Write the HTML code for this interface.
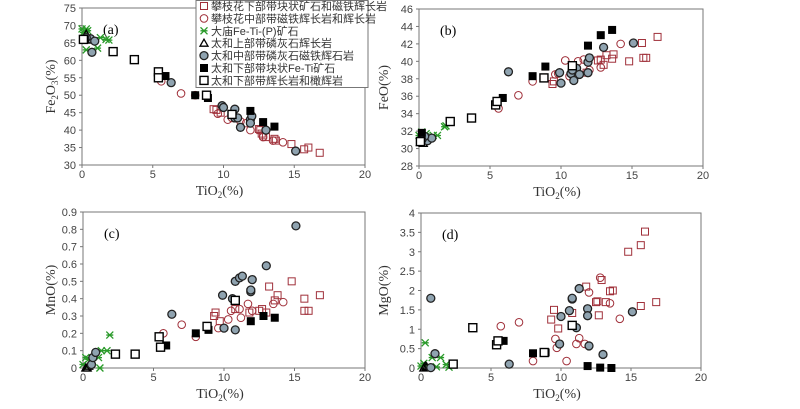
<!DOCTYPE html>
<html><head><meta charset="utf-8"><style>
body{margin:0;background:#fff;width:800px;height:404px;overflow:hidden}
</style></head><body>
<svg id="c" width="800" height="404" xmlns="http://www.w3.org/2000/svg"></svg>
<script>
// Series data [TiO2, value] per panel
const seriesNames=["攀枝花下部带块状矿石和磁铁辉长岩","攀枝花中部带磁铁辉长岩和辉长岩","大庙Fe-Ti-(P)矿石","太和上部带磷灰石辉长岩","太和中部带磷灰石磁铁辉石岩","太和下部带块状Fe-Ti矿石","太和下部带辉长岩和橄辉岩"];
const feA=[[[9.5,45.8],[9.8,45],[9.3,46],[12.6,40],[12.7,39],[12.8,38.5],[13,38],[13.6,37.5],[13.7,37],[14.8,36],[15.7,34.5],[16,35],[16.8,33.5],[12.5,40.3]],
[[5.6,54],[7,50.5],[8,50],[10.3,43],[10.6,43.5],[11.6,42],[11.9,40],[12.8,38],[13.5,37],[14.2,36.5],[9.6,44.7],[11.2,42.5]],
[[0,69],[0.1,68],[0.3,69],[0.4,68.5],[0.5,66],[1.3,66.5],[1.7,66],[1.9,65.8],[0.3,63],[1.1,63.5],[0.2,67]],
[[0.2,66],[0.3,67.5],[0.4,65.8]],
[[0.6,66.2],[0.9,65.5],[0.7,62.3],[6.3,53.6],[9.9,47],[10,46.5],[10.6,44.5],[10.8,46],[10.8,43.5],[11,43.5],[11.2,40.8],[11.9,43],[12,44],[11.9,42],[13,40],[15.1,34],[0.3,66.5]],
[[5.9,55.5],[8,50],[8.9,49.2],[11.9,45.5],[12.8,42.3],[13.6,41],[0.2,66]],
[[2.2,62.5],[3.7,60.2],[5.4,56.7],[5.4,55],[8.8,50],[0.1,66],[10.6,44.5]]];
const feoB=[[[12.6,40.1],[12.8,40.2],[13,39.6],[13.2,40.7],[13.6,40.3],[13.7,40.8],[14.8,40],[15.7,42.1],[15.8,40.4],[16,40.4],[16.8,42.8],[9.4,37.4],[9.5,37.7],[11.8,38.7]],
[[5.6,34.6],[7,36.1],[8,37.7],[9.6,38.5],[10.3,40.1],[10.6,38.3],[11.2,40],[11.6,40.2],[12,39],[12.8,39.3],[14.2,42],[9.8,38.6]],
[[0,31.5],[0.2,31.9],[0.5,31.7],[1,31.5],[1.3,31.5],[1.8,32.5],[1.9,32.6],[0.3,31]],
[[0.1,30.7],[0.2,31.3],[0.3,30.6]],
[[0.6,30.9],[0.9,31.2],[0.4,31.4],[6.3,38.8],[9.9,38.7],[10,37.5],[10.7,38.6],[10.9,37.8],[11.1,39.2],[11.3,38.5],[11.9,39.9],[11.9,38.7],[12,40.4],[13,41.6],[15.1,42.1],[10.8,39],[0.2,31]],
[[5.9,35.8],[8,38.3],[8.9,39.4],[11.9,41.8],[12.8,43],[13.6,43.6],[0.2,31.8]],
[[2.2,33.1],[3.7,33.5],[5.4,35],[5.5,35.4],[8.8,38.1],[10.8,39.5],[0.1,30.8]]];
const mnoC=[[[9.4,0.32],[9.3,0.3],[9.7,0.27],[10.8,0.34],[11.8,0.32],[12.5,0.33],[12.7,0.34],[13,0.32],[13.2,0.47],[13.6,0.39],[13.8,0.42],[14.8,0.5],[15.7,0.4],[15.7,0.33],[16,0.33],[16.8,0.42]],
[[5.7,0.2],[7,0.25],[8,0.18],[9.6,0.23],[10.3,0.28],[10.5,0.33],[11.1,0.34],[11.2,0.29],[11.7,0.37],[12,0.33],[13.5,0.37],[14.2,0.38]],
[[0,0.02],[0.2,0.06],[0.4,0.05],[0.6,0.03],[1.1,0.06],[1.3,0.1],[1.7,0.1],[1.9,0.19],[1.2,0],[0.3,0.01]],
[[0.2,0],[0.3,0],[0.4,0.01]],
[[0.6,0.02],[0.7,0.06],[0.9,0.09],[6.3,0.31],[9.9,0.42],[10,0.23],[10.6,0.4],[10.8,0.5],[10.8,0.22],[11.1,0.52],[11.3,0.53],[11.9,0.44],[11.9,0.45],[12,0.51],[13,0.59],[15.1,0.82]],
[[5.9,0.13],[8,0.2],[8.9,0.22],[11.9,0.27],[12.8,0.3],[13.6,0.29]],
[[2.3,0.08],[3.7,0.08],[5.4,0.18],[5.5,0.12],[8.8,0.24],[10.8,0.39]]];
const mgoD=[[[9.3,1.25],[9.5,1.5],[9.8,1.02],[10.8,1.42],[11.8,2.1],[12.5,1.7],[12.6,1.72],[12.7,1.36],[12.9,2.27],[13.2,1.7],[13.5,1.98],[13.7,2],[14.8,3],[15.7,3.17],[15.7,1.6],[16,3.52],[16.8,1.7]],
[[5.7,1.08],[7,1.18],[8,0.18],[9.6,0.75],[9.7,0.52],[10.4,0.18],[10.6,1.48],[11.1,0.62],[11.3,0.77],[11.7,0.62],[12,1.95],[12.8,2.33],[13.5,1.67],[14.2,1.27]],
[[0.3,0.65],[0,0.05],[0.2,0.12],[0.6,0.02],[0.8,0.27],[1.1,0.03],[1.4,0.27],[1.8,0.09],[2,0.02]],
[[0.2,0],[0.3,0.05],[0.4,0.03]],
[[0.7,1.8],[1,0.37],[0.7,0.01],[6.3,0.1],[9.9,0.62],[10,1.33],[10.6,1.48],[10.8,1.78],[10.8,1.8],[11.1,1.04],[11.3,2.05],[11.9,1.53],[11.9,1.35],[12,0.57],[13,0.35],[15.1,1.45]],
[[5.9,0.7],[8,0.38],[8.9,0.4],[11.9,0.05],[12.8,0.01],[13.6,0]],
[[2.3,0.1],[3.7,1.04],[5.4,0.6],[5.5,0.7],[8.8,0.4],[10.8,1.1]]];
const xTicks=[0,5,10,15,20];
const ticksA=[30,35,40,45,50,55,60,65,70,75];
const ticksB=[28,30,32,34,36,38,40,42,44,46];
const ticksC=[0,0.1,0.2,0.3,0.4,0.5,0.6,0.7,0.8,0.9];
const ticksD=[0,0.5,1,1.5,2,2.5,3,3.5,4];

const svg=document.getElementById('c');const NS="http://www.w3.org/2000/svg";
const SANS='font-family:"Liberation Sans","Noto Sans CJK SC",sans-serif';
const SERIF='font-family:"Liberation Serif",serif';
function mk(t,a,p){const e=document.createElementNS(NS,t);for(const k in a)e.setAttribute(k,a[k]);(p||svg).appendChild(e);return e;}
function marker(g,k,cx,cy){
 const red="#a0303a";
 if(k===0)return mk('rect',{x:cx-3.5,y:cy-3.5,width:7,height:7,fill:'none',stroke:red,'stroke-width':1},g);
 if(k===1)return mk('circle',{cx:cx,cy:cy,r:3.8,fill:'none',stroke:red,'stroke-width':1},g);
 if(k===2)return mk('path',{d:`M${cx-3.5} ${cy-3.5}L${cx+3.5} ${cy+3.5}M${cx+3.5} ${cy-3.5}L${cx-3.5} ${cy+3.5}M${cx-3.5} ${cy}H${cx+3.5}`,stroke:'#2a9a2a','stroke-width':1.3,fill:'none'},g);
 if(k===3)return mk('path',{d:`M${cx} ${cy-4}L${cx+4} ${cy+3}L${cx-4} ${cy+3}Z`,fill:'none',stroke:'#000','stroke-width':1.3},g);
 if(k===4)return mk('circle',{cx:cx,cy:cy,r:4,fill:'#8fa3b0',stroke:'#222','stroke-width':1.3},g);
 if(k===5)return mk('rect',{x:cx-4,y:cy-4,width:8,height:8,fill:'#000'},g);
 return mk('rect',{x:cx-4,y:cy-4,width:8,height:8,fill:'#fff',stroke:'#000','stroke-width':1.4},g);
}
function panel(name,data,yt,x0,x1,yb,ytop,label,ytitle,ytx){
 const g=mk('g',{});
 
 
 const ymin=yt[0],ymax=yt[yt.length-1];
 const sx=v=>x0+(v-0)/20*(x1-x0), sy=v=>yb-(v-ymin)/(ymax-ymin)*(yb-ytop);
 const box=mk('rect',{x:x0,y:ytop,width:x1-x0,height:yb-ytop,fill:'none',stroke:'#777','stroke-width':1},g);
 
 
 yt.forEach(v=>{const t=mk('text',{x:x0-6,y:sy(v)+4,'text-anchor':'end','font-size':11,fill:'#444',style:SANS},g);t.textContent=String(v);
  
  mk('line',{x1:x0-3,x2:x0,y1:sy(v),y2:sy(v),stroke:'#777'},g);});
 xTicks.forEach(v=>{const t=mk('text',{x:sx(v),y:yb+13,'text-anchor':'middle','font-size':11,fill:'#444',style:SANS},g);t.textContent=v;
  
  mk('line',{x1:sx(v),x2:sx(v),y1:yb,y2:yb+3,stroke:'#777'},g);});
 const xt=mk('text',{x:(x0+x1)/2-4,y:yb+30,'text-anchor':'middle','font-size':14,style:SERIF,fill:'#333'},g);
 xt.innerHTML='TiO<tspan font-size="9" dy="3">2</tspan><tspan dy="-3">(%)</tspan>';
 
 const ty=(ytop+yb)/2;
 const yT=mk('text',{x:ytx,y:ty,'text-anchor':'middle','font-size':14,style:SERIF,fill:'#333',transform:`rotate(-90 ${ytx} ${ty})`},g);
 yT.innerHTML=ytitle;
 
 const lb=mk('text',{x:x0+21,y:ytop+26,'font-size':14,style:SERIF,fill:'#000'},g);lb.textContent=label;
 
 data.forEach((s,k)=>s.forEach(p=>{const m=marker(g,k,sx(p[0]),sy(p[1]));
  }));
}
panel('panel-a-fe2o3',feA,ticksA,82,365,165,8,'(a)','Fe<tspan font-size="9" dy="3">2</tspan><tspan dy="-3">O</tspan><tspan font-size="9" dy="3">3</tspan><tspan dy="-3">(%)</tspan>',55);
panel('panel-b-feo',feoB,ticksB,419,703,166,9,'(b)','FeO(%)',388);
panel('panel-c-mno',mnoC,ticksC,83,365,368,212,'(c)','MnO(%)',55);
panel('panel-d-mgo',mgoD,ticksD,421,701,368,213,'(d)','MgO(%)',388);
// legend
const lg=mk('g',{});


mk('rect',{x:196,y:0.5,width:172,height:87,fill:'#fff',stroke:'#777'},lg);
seriesNames.forEach((n,k)=>{const y=6+k*12.4;
 const e=mk('g',{},lg);
 
 
 marker(e,k,204,y);
 const t=mk('text',{x:211,y:y+4,'font-size':11,fill:'#333',style:SANS},e);t.textContent=n;});
</script>
</body></html>
